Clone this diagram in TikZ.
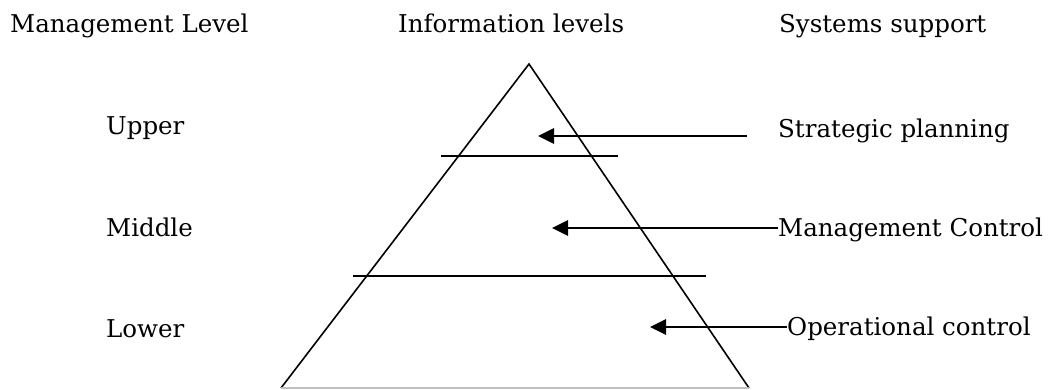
\documentclass[tikz,border=0pt]{standalone}
\usepackage{fontspec}
\setmainfont{DejaVu Serif}
\usetikzlibrary{arrows.meta}
\begin{document}
\begin{tikzpicture}[x=1pt,y=-1pt,
  lbl/.style={anchor=base west,inner sep=0pt,font=\fontsize{24.5}{28}\selectfont},
  edge/.style={line width=1.6pt},
  ptr/.style={line width=2.8pt,-{Triangle[length=16pt,width=15pt]}}]
\useasboundingbox (0,0) rectangle (1053,389);
% headers
\node[lbl] (h1) at (10,32) {Management Level};
\node[lbl] (h2) at (398,32) {Information levels};
\node[lbl] (h3) at (779,32) {Systems support};
% left column
\node[lbl] (up) at (106,134) {Upper};
\node[lbl] (mid) at (106,236) {Middle};
\node[lbl] (low) at (106,337) {Lower};
% right column
\node[lbl] (sp) at (778,137) {Strategic planning};
\node[lbl] (mc) at (778,236) {Management Control};
\node[lbl] (oc) at (787,335) {Operational control};
% pyramid
\coordinate (apex) at (529,64);
\coordinate (bl) at (281,388);
\coordinate (br) at (749,388);
\draw[edge] (bl) -- (apex) -- (br);
\draw[edge,gray!50] (bl) -- (br);
\coordinate (l1a) at (441,156); \coordinate (l1b) at (618,156);
\coordinate (l2a) at (353,276); \coordinate (l2b) at (706,276);
\draw[edge] (l1a) -- (l1b);
\draw[edge] (l2a) -- (l2b);
% arrows
\coordinate (s1) at (747,136); \coordinate (t1) at (538,136);
\coordinate (s2) at (778,228); \coordinate (t2) at (552,228);
\coordinate (s3) at (787,327); \coordinate (t3) at (650,327);
\draw[ptr] (s1) -- (t1);
\draw[ptr] (s2) -- (t2);
\draw[ptr] (s3) -- (t3);
\end{tikzpicture}
\end{document}
